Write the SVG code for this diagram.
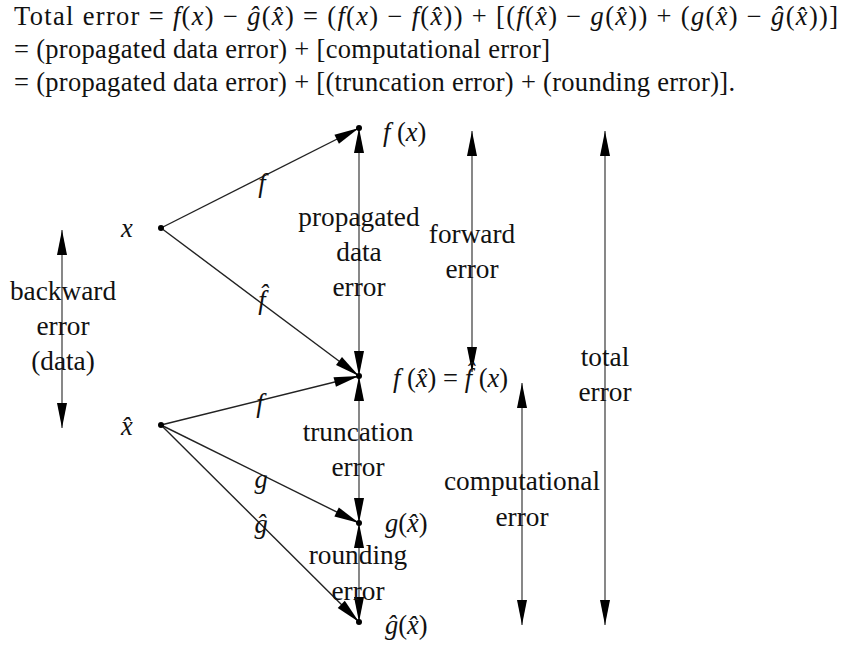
<svg xmlns="http://www.w3.org/2000/svg" width="858" height="648" viewBox="0 0 858 648">
<style>
text{font-family:"Liberation Serif","Times New Roman",serif;font-size:26.5px;fill:#111}
.lb text{font-size:27.3px}
.i{font-style:italic}
.c{text-anchor:middle}
.ln{stroke:#555;stroke-width:1.4;fill:none}
.dg{stroke:#222}
.d{marker-end:url(#ah)}
.dd{marker-end:url(#ah);marker-start:url(#as)}
.dot{fill:#000}
</style>
<defs>
<marker id="ah" markerUnits="userSpaceOnUse" markerWidth="25" markerHeight="10" refX="25" refY="5" orient="auto" overflow="visible"><path d="M0,0 L25,5 L0,10 z" fill="#000"/></marker>
<marker id="as" markerUnits="userSpaceOnUse" markerWidth="25" markerHeight="10" refX="25" refY="5" orient="auto-start-reverse" overflow="visible"><path d="M0,0 L25,5 L0,10 z" fill="#000"/></marker>
</defs>
<rect width="858" height="648" fill="#fff"/>
<g id="header">
<text x="14" y="25" textLength="824" lengthAdjust="spacing">Total error = <tspan class="i">f</tspan>(<tspan class="i">x</tspan>) − <tspan class="i">ĝ</tspan>(<tspan class="i">x̂</tspan>) = (<tspan class="i">f</tspan>(<tspan class="i">x</tspan>) − <tspan class="i">f</tspan>(<tspan class="i">x̂</tspan>)) + [(<tspan class="i">f</tspan>(<tspan class="i">x̂</tspan>) − <tspan class="i">g</tspan>(<tspan class="i">x̂</tspan>)) + (<tspan class="i">g</tspan>(<tspan class="i">x̂</tspan>) − <tspan class="i">ĝ</tspan>(<tspan class="i">x̂</tspan>))]</text>
<text x="14" y="58" textLength="536" lengthAdjust="spacing">= (propagated data error) + [computational error]</text>
<text x="14" y="91" textLength="721" lengthAdjust="spacing">= (propagated data error) + [(truncation error) + (rounding error)].</text>
</g>
<g id="connectors">
<line class="ln dg d" x1="161" y1="228" x2="359" y2="128"/>
<line class="ln dg d" x1="161" y1="228" x2="359" y2="376"/>
<line class="ln dg d" x1="161" y1="425" x2="359" y2="376"/>
<line class="ln dg d" x1="161" y1="425" x2="359" y2="523"/>
<line class="ln dg d" x1="161" y1="425" x2="359" y2="622"/>
<line class="ln dd" x1="359" y1="376" x2="359" y2="128"/>
<line class="ln dd" x1="359" y1="376" x2="359" y2="523"/>
<line class="ln dd" x1="359" y1="523" x2="359" y2="622"/>
<line class="ln dd" x1="472" y1="372" x2="472" y2="131"/>
<line class="ln dd" x1="605" y1="625" x2="605" y2="131"/>
<line class="ln dd" x1="522" y1="625" x2="522" y2="383"/>
<line class="ln dd" x1="62" y1="428" x2="62" y2="230"/>
</g>
<g id="edge-labels">
<text class="i c" x="262" y="192">f</text>
<text class="i c" x="262" y="309">f̂</text>
<text class="i c" x="260" y="412">f</text>
<text class="i c" x="261" y="488">g</text>
<text class="i c" x="261" y="533">ĝ</text>
</g>
<g id="node-x"><circle class="dot" cx="161" cy="228" r="3"/><text class="i" x="121" y="237">x</text></g>
<g id="node-xhat"><circle class="dot" cx="161" cy="425" r="3"/><text class="i" x="121" y="435">x̂</text></g>
<g id="node-fx"><circle class="dot" cx="359" cy="128" r="3"/><text x="383" y="141"><tspan class="i">f</tspan> (<tspan class="i">x</tspan>)</text></g>
<g id="node-fxhat"><circle class="dot" cx="359" cy="376" r="3"/><text x="393" y="387"><tspan class="i">f</tspan> (<tspan class="i">x̂</tspan>) = <tspan class="i">f̂</tspan> (<tspan class="i">x</tspan>)</text></g>
<g id="node-gxhat"><circle class="dot" cx="359" cy="523" r="3"/><text x="385" y="532"><tspan class="i">g</tspan>(<tspan class="i">x̂</tspan>)</text></g>
<g id="node-ghatxhat"><circle class="dot" cx="359" cy="622" r="3"/><text x="385" y="634"><tspan class="i">ĝ</tspan>(<tspan class="i">x̂</tspan>)</text></g>
<g id="labels" class="lb">
<text class="c" x="359" y="226">propagated</text>
<text class="c" x="359" y="261">data</text>
<text class="c" x="359" y="296">error</text>
<text class="c" x="472" y="243">forward</text>
<text class="c" x="472" y="278">error</text>
<text class="c" x="63" y="300">backward</text>
<text class="c" x="63" y="335">error</text>
<text class="c" x="63" y="370">(data)</text>
<text class="c" x="605" y="366">total</text>
<text class="c" x="605" y="401">error</text>
<text class="c" x="358" y="441">truncation</text>
<text class="c" x="358" y="476">error</text>
<text class="c" x="522" y="490">computational</text>
<text class="c" x="522" y="526">error</text>
<text class="c" x="358" y="564">rounding</text>
<text class="c" x="358" y="600">error</text>
</g>
</svg>
